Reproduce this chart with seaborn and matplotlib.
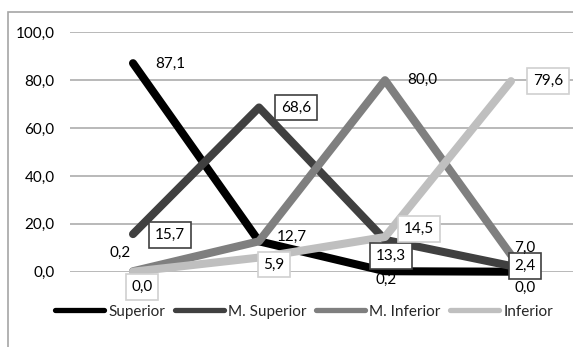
import pandas as pd
import matplotlib.pyplot as plt
import seaborn as sns
from matplotlib.patches import Rectangle
from matplotlib.ticker import FuncFormatter

# data
categories = ["1", "2", "3", "4"]
series = ["Superior", "M. Superior", "M. Inferior", "Inferior"]
superior = [87.1, 12.7, 0.2, 0.0]
m_superior = [15.7, 68.6, 13.3, 2.4]
m_inferior = [0.2, 12.7, 80.0, 7.0]
inferior = [0.0, 5.9, 14.5, 79.6]

colors = ["#000000", "#404040", "#7f7f7f", "#bfbfbf"]

rows = []
for name, vals in zip(series, [superior, m_superior, m_inferior, inferior]):
    for i, v in enumerate(vals):
        rows.append({"cat": i, "val": v, "serie": name})
data = pd.DataFrame(rows)

sns.set_style("white")
plt.rcParams['font.family'] = ['Lato', 'DejaVu Sans']
fs = 11

fig = plt.figure(figsize=(5.73, 3.47), dpi=100)
ax = fig.add_axes([70 / 573, 1 - 271.7 / 347, 504 / 573, (271.7 - 32.3) / 347])

sns.lineplot(data=data, x="cat", y="val", hue="serie", hue_order=series,
             palette=colors, linewidth=5.8, sort=False, legend=False, ax=ax,
             solid_capstyle='round', solid_joinstyle='round', clip_on=False)
for ln in ax.lines:
    ln.set_clip_on(False)

ax.set_xlim(-0.5, 3.5)
ax.set_ylim(0, 100)
ax.set_yticks([0, 20, 40, 60, 80, 100])
ax.yaxis.set_major_formatter(FuncFormatter(lambda v, p: f"{v:.1f}".replace(".", ",")))
ax.set_xticks([])
ax.set_xlabel("")
ax.set_ylabel("")
ax.tick_params(axis='y', length=0, pad=11, labelsize=fs, labelcolor="#000000")
ax.grid(axis='y', color="#a6a6a6", linewidth=1.1)
ax.set_axisbelow(True)
for s in ax.spines.values():
    s.set_visible(False)

# data labels: offsets in pixels (dx, dy) from each point
offsets = {
    "Superior": [(37, -1), (33, 4), (1, -9), (14, -16)],
    "M. Superior": [(37, -1), (37, 0), (6, -16), (14, 0)],
    "M. Inferior": [(-13, 18), (33, 4), (37, 0), (14, 7)],
    "Inferior": [(9, -15), (15, -7), (34, 8), (37, 0)],
}
boxes = {"M. Superior": "#404040", "Inferior": "#d0d0d0"}
drawn = set()
for name, vals in zip(series, [superior, m_superior, m_inferior, inferior]):
    for i, v in enumerate(vals):
        dx, dy = offsets[name][i]
        txt = f"{v:.1f}".replace(".", ",")
        key = (i, v, dx, dy)
        if key in drawn:
            continue  # identical label in the same spot
        drawn.add(key)
        bbox = None
        if name in boxes:
            bbox = dict(boxstyle="square,pad=0.38", fc="white", ec=boxes[name], lw=1.2)
        ax.annotate(txt, (i, v), xytext=(dx, dy),
                    textcoords='offset pixels', ha='center', va='center',
                    fontsize=fs, color="#000000", bbox=bbox, annotation_clip=False)

handles = [plt.Line2D([], [], color=c, lw=3.8, solid_capstyle='round') for c in colors]
fig.legend(handles, series, loc='center', bbox_to_anchor=(0.531, 0.102), ncol=4,
           frameon=False, fontsize=fs, handlelength=3.2, handletextpad=0.3,
           columnspacing=0.6)

# chart area border
fig.patches.append(Rectangle((8 / 573, -0.1), 1.2, 0.1 + 1 - 12 / 347, transform=fig.transFigure,
                             fill=False, ec="#a6a6a6", lw=1.2))

fig.savefig("out.png", dpi=100)
